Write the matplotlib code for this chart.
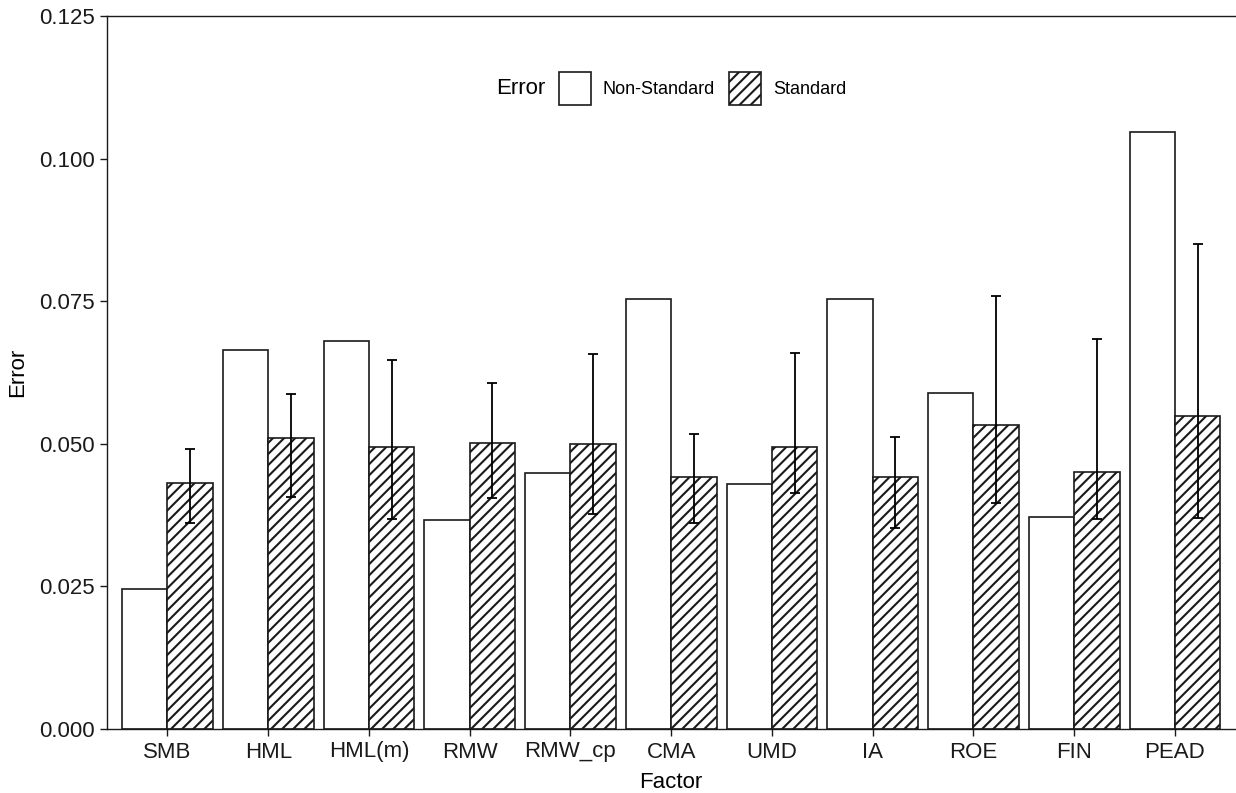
import matplotlib

matplotlib.use("Agg")
import matplotlib.pyplot as plt
import numpy as np
from matplotlib.offsetbox import HPacker

plt.rcParams["font.family"] = ["Liberation Sans", "DejaVu Sans"]
plt.rcParams["hatch.linewidth"] = 1.5

factors = ["SMB", "HML", "HML(m)", "RMW", "RMW_cp", "CMA", "UMD", "IA", "ROE", "FIN", "PEAD"]
non_standard = [0.0245, 0.0665, 0.0680, 0.0366, 0.0449, 0.0754, 0.0430, 0.0754, 0.0589, 0.0372, 0.1047]
standard = [0.0431, 0.0510, 0.0494, 0.0501, 0.0500, 0.0441, 0.0494, 0.0441, 0.0533, 0.0451, 0.0548]
standard_upper = [0.0491, 0.0588, 0.0647, 0.0606, 0.0657, 0.0517, 0.0660, 0.0512, 0.0759, 0.0683, 0.0850]
standard_lower = [0.0362, 0.0407, 0.0368, 0.0405, 0.0377, 0.0362, 0.0413, 0.0352, 0.0397, 0.0368, 0.0370]

x = np.arange(len(factors))
width = 0.45

fig = plt.figure(figsize=(12.36, 7.93), dpi=100)
ax = fig.add_axes([107 / 1236, 64 / 793, 1 - 107 / 1236 - 0.0005, 713 / 793])

ax.bar(x - width / 2, non_standard, width, color="white", edgecolor="#1a1a1a", linewidth=1.2,
       label="Non-Standard")
ax.bar(x + width / 2, standard, width, color="white", edgecolor="#1a1a1a", linewidth=1.2,
       hatch="///", label="Standard")
yerr = [np.array(standard) - np.array(standard_lower), np.array(standard_upper) - np.array(standard)]
ax.errorbar(x + width / 2, standard, yerr=yerr, fmt="none", ecolor="black", elinewidth=1.3,
            capsize=3.6, capthick=1.3)

ax.set_xlim(-0.6, len(factors) - 0.4)
ax.set_ylim(0, 0.125)
yticks = np.arange(0, 0.126, 0.025)
ax.set_yticks(yticks, labels=[f"{v:.3f}" for v in yticks])
ax.set_xticks(x, labels=factors)
ax.tick_params(axis="both", labelsize=16, colors="#1a1a1a", length=5, width=1.0, pad=4)
ax.set_xlabel("Factor", fontsize=16, labelpad=7)
ax.set_ylabel("Error", fontsize=16, labelpad=8)
ax.spines["right"].set_visible(False)
for side in ["left", "bottom", "top"]:
    ax.spines[side].set_linewidth(1.0)
    ax.spines[side].set_color("#1a1a1a")

leg = ax.legend(title="Error", loc="center", bbox_to_anchor=(0.5, 0.898), ncol=2,
                frameon=False, fontsize=13, title_fontsize=16, handlelength=1.77,
                handleheight=2.45, columnspacing=0.78, handletextpad=0.66)
# title on the same row as the keys, like ggplot's top legend
leg._legend_box.__class__ = HPacker
leg._legend_box.sep = 9.5
leg._legend_box.align = "center"

fig.savefig("out.png", dpi=100)
